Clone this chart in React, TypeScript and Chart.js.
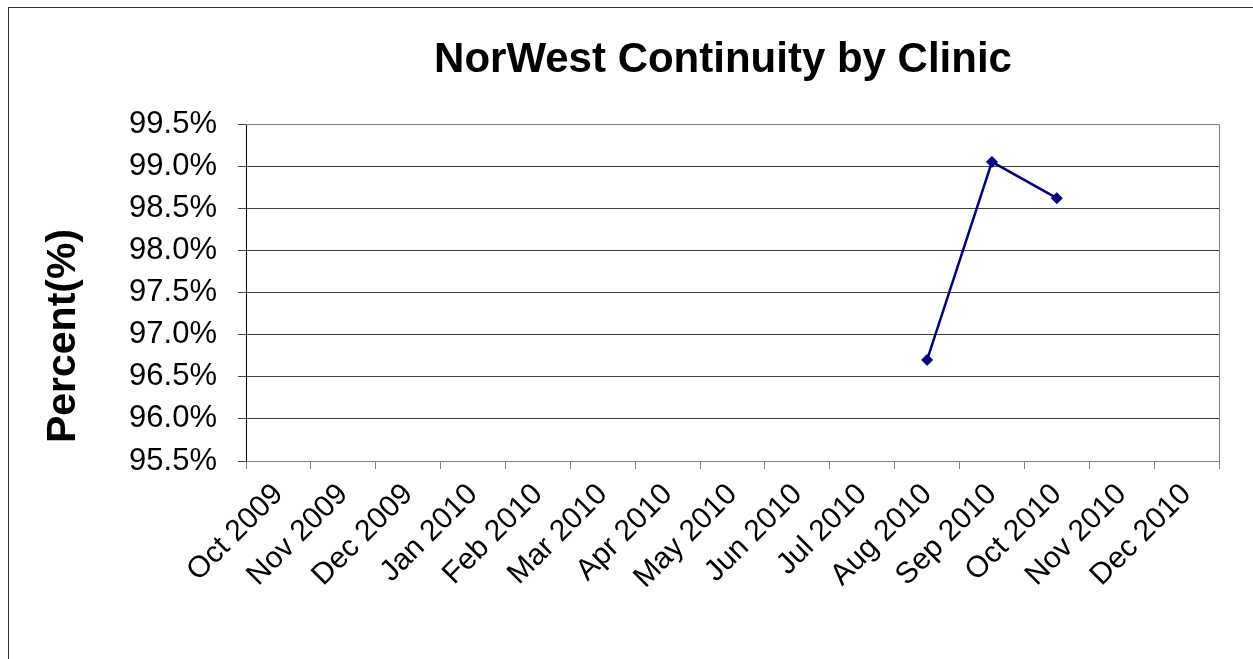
import React, { useEffect, useRef } from "react";
import { Chart, registerables } from "chart.js";

Chart.register(...registerables);

const TITLE = "NorWest Continuity by Clinic";
const Y_TITLE = "Percent(%)";
const MONTHS = [
  "Oct 2009", "Nov 2009", "Dec 2009", "Jan 2010", "Feb 2010", "Mar 2010", "Apr 2010",
  "May 2010", "Jun 2010", "Jul 2010", "Aug 2010", "Sep 2010", "Oct 2010", "Nov 2010", "Dec 2010",
];
const CONTINUITY = [
  null, null, null, null, null, null, null, null, null, null, 96.7, 99.05, 98.62, null, null,
];
const Y_MIN = 95.5;
const Y_MAX = 99.5;
const Y_STEP = 0.5;

const FONT = "'Liberation Sans', Arial, sans-serif";

export default function App() {
  const ref = useRef<HTMLCanvasElement | null>(null);

  useEffect(() => {
    if (!ref.current) return;
    const textPlugin = {
      id: "customText",
      afterDraw(chart: any) {
        const ctx = chart.ctx;
        const a = chart.chartArea;
        ctx.save();
        ctx.strokeStyle = "#808080";
        ctx.lineWidth = 1;
        ctx.beginPath();
        ctx.moveTo(a.left, a.top + 0.5);
        ctx.lineTo(a.right + 0.5, a.top + 0.5);
        ctx.lineTo(a.right + 0.5, a.bottom);
        ctx.stroke();
        ctx.fillStyle = "#000";
        ctx.font = `bold 42px ${FONT}`;
        ctx.textAlign = "center";
        ctx.textBaseline = "alphabetic";
        ctx.fillText(TITLE, 723 - 9, 64);
        ctx.translate(66, 328);
        ctx.rotate(-Math.PI / 2);
        ctx.font = `bold 41px ${FONT}`;
        ctx.fillText(Y_TITLE, 0, 0);
        ctx.restore();
      },
    };
    const chart = new Chart(ref.current, {
      type: "line",
      data: {
        labels: MONTHS,
        datasets: [
          {
            data: CONTINUITY,
            borderColor: "#000080",
            backgroundColor: "#000080",
            borderWidth: 2.5,
            pointStyle: "rectRot",
            pointRadius: 5.5,
            pointBorderWidth: 1,
            spanGaps: false,
          },
        ],
      },
      options: {
        animation: false,
        responsive: false,
        devicePixelRatio: 1,
        layout: { padding: { top: 116, right: 34, bottom: 0, left: 0 } },
        plugins: {
          legend: { display: false },
          title: { display: false },
          tooltip: { enabled: false },
        },
        scales: {
          x: {
            type: "category",
            offset: true,
            grid: {
              offset: true,
              drawOnChartArea: false,
              drawTicks: true,
              tickLength: 8,
              color: "#808080",
              lineWidth: 1,
            },
            border: { display: true, color: "#808080", width: 1 },
            ticks: {
              autoSkip: false,
              maxRotation: 45,
              minRotation: 45,
              padding: 8,
              color: "#000",
              font: { family: FONT, size: 30 },
            },
            afterFit(scale: any) {
              scale.height = 198;
            },
          },
          y: {
            min: Y_MIN,
            max: Y_MAX,
            grid: {
              color: "#404040",
              lineWidth: 1,
              drawTicks: true,
              tickLength: 8,
            },
            border: { display: true, color: "#000", width: 1 },
            ticks: {
              stepSize: Y_STEP,
              padding: 21,
              color: "#000",
              font: { family: FONT, size: 31 },
              callback: (v: any) => Number(v).toFixed(1) + "%",
            },
            afterFit(scale: any) {
              scale.width = 237;
            },
          },
        },
      },
      plugins: [textPlugin],
    } as any);
    return () => chart.destroy();
  }, []);

  return (
    <div
      style={{
        position: "absolute",
        left: 8,
        top: 7,
        width: 1245,
        height: 652,
        borderLeft: "1px solid #333",
        borderTop: "1px solid #333",
        background: "#fff",
        overflow: "hidden",
      }}
    >
      <canvas ref={ref} width={1244} height={651} style={{ display: "block" }} />
    </div>
  );
}
